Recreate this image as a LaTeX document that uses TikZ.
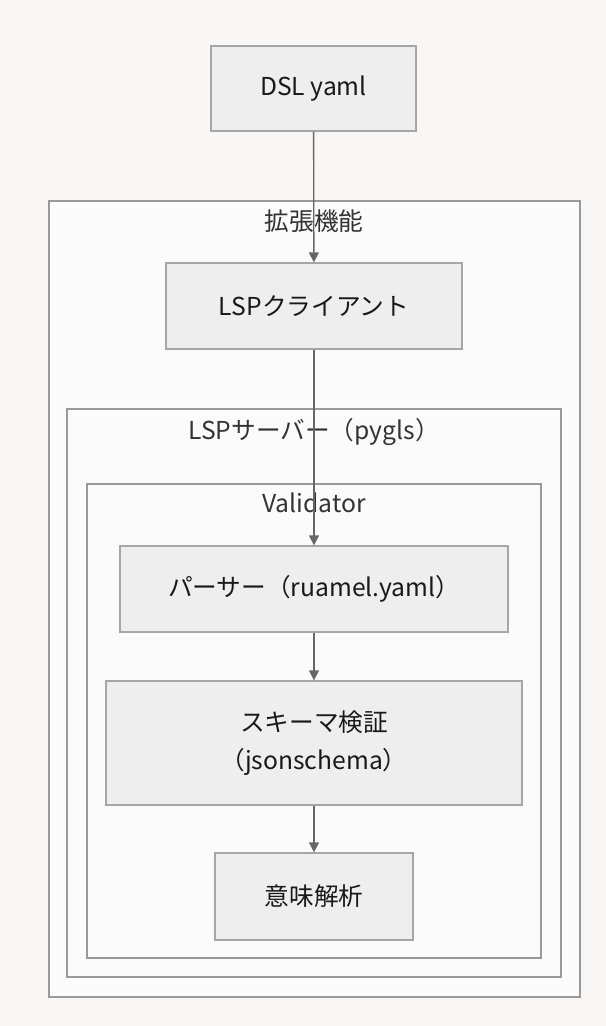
\documentclass[tikz,border=0pt]{standalone}
\usepackage{fontspec}
\setmainfont{Noto Sans CJK JP}
\usetikzlibrary{arrows.meta,positioning}
\definecolor{pagebg}{HTML}{F8F7F6}
\definecolor{clusterbg}{HTML}{FBFBFB}
\definecolor{clusterline}{HTML}{999999}
\definecolor{boxfill}{HTML}{EEEEEE}
\definecolor{boxline}{HTML}{A6A6A6}
\definecolor{flowgray}{HTML}{666666}
\definecolor{labelgray}{HTML}{333333}

\tikzset{
  stagebox/.style={draw=boxline,fill=boxfill,line width=1pt,inner sep=0pt,
    font=\fontsize{18.5}{28.5}\selectfont,text=black!90,align=center},
  cluster/.style={draw=clusterline,fill=clusterbg,line width=1pt},
  clusterlabel/.style={font=\fontsize{18.5}{22}\selectfont,text=labelgray},
  flow/.style={draw=flowgray,line width=1pt,-{Triangle[length=7.5pt,width=7.5pt]}}
}

\begin{document}
\begin{tikzpicture}[x=0.75pt,y=-0.75pt]
  % page
  \fill[pagebg] (0,0) rectangle (606,1026);
  \useasboundingbox (0,0) rectangle (606,1026);

  % nested clusters
  \draw[cluster] (49,201) rectangle (580,997);
  \node[clusterlabel] (extlabel) at (314,221) {拡張機能};
  \draw[cluster] (67,409) rectangle (561,977);
  \node[clusterlabel] (serverlabel) at (314,432) {LSPサーバー（pygls）};
  \draw[cluster] (87,484) rectangle (541,958);
  \node[clusterlabel] (validlabel) at (314,503) {Validator};

  % stages
  \node[stagebox,minimum width=153.75pt,minimum height=63.75pt] (dsl) at (313.5,88.5) {DSL yaml};
  \node[stagebox,minimum width=222pt,minimum height=64.5pt] (client) at (314,306) {LSPクライアント};
  \node[stagebox,minimum width=291pt,minimum height=64.5pt] (parser) at (314,589) {パーサー（ruamel.yaml）};
  \node[stagebox,minimum width=312pt,minimum height=93pt] (schema) at (314,743) {スキーマ検証\\（jsonschema）};
  \node[stagebox,minimum width=148.5pt,minimum height=65.25pt] (semantic) at (314,896.5) {意味解析};

  % flow
  \draw[flow] (dsl) -- (client);
  \draw[flow] (client) -- (parser);
  \draw[flow] (parser) -- (schema);
  \draw[flow] (schema) -- (semantic);
\end{tikzpicture}
\end{document}
